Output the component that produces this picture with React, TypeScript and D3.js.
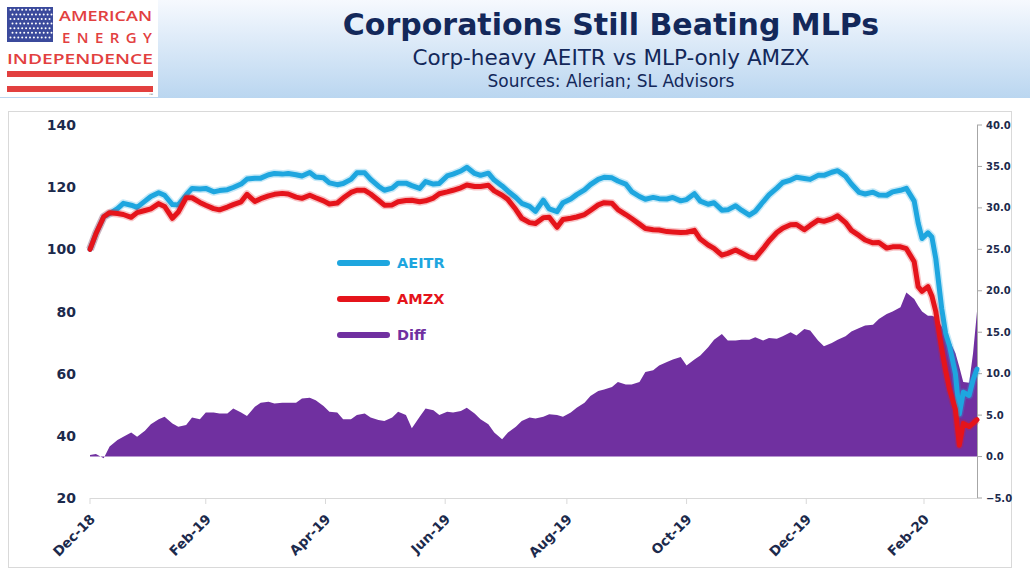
import React from "react";
import * as d3 from "d3";

// twice-weekly closes (Mon, Thu), then the March 2020 crash in finer steps
const dates = [
  "2018-12-31", "2019-01-03", "2019-01-07", "2019-01-10", "2019-01-14", "2019-01-17", "2019-01-21", "2019-01-24",
  "2019-01-28", "2019-01-31", "2019-02-04", "2019-02-07", "2019-02-11", "2019-02-14", "2019-02-18", "2019-02-21",
  "2019-02-25", "2019-02-28", "2019-03-04", "2019-03-07", "2019-03-11", "2019-03-14", "2019-03-18", "2019-03-21",
  "2019-03-25", "2019-03-28", "2019-04-01", "2019-04-04", "2019-04-08", "2019-04-11", "2019-04-15", "2019-04-18",
  "2019-04-22", "2019-04-25", "2019-04-29", "2019-05-02", "2019-05-06", "2019-05-09", "2019-05-13", "2019-05-16",
  "2019-05-20", "2019-05-23", "2019-05-27", "2019-05-30", "2019-06-03", "2019-06-06", "2019-06-10", "2019-06-13",
  "2019-06-17", "2019-06-20", "2019-06-24", "2019-06-27", "2019-07-01", "2019-07-04", "2019-07-08", "2019-07-11",
  "2019-07-15", "2019-07-18", "2019-07-22", "2019-07-25", "2019-07-29", "2019-08-01", "2019-08-05", "2019-08-08",
  "2019-08-12", "2019-08-15", "2019-08-19", "2019-08-22", "2019-08-26", "2019-08-29", "2019-09-02", "2019-09-05",
  "2019-09-09", "2019-09-12", "2019-09-16", "2019-09-19", "2019-09-23", "2019-09-26", "2019-09-30", "2019-10-03",
  "2019-10-07", "2019-10-10", "2019-10-14", "2019-10-17", "2019-10-21", "2019-10-24", "2019-10-28", "2019-10-31",
  "2019-11-04", "2019-11-07", "2019-11-11", "2019-11-14", "2019-11-18", "2019-11-21", "2019-11-25", "2019-11-28",
  "2019-12-02", "2019-12-05", "2019-12-09", "2019-12-12", "2019-12-16", "2019-12-19", "2019-12-23", "2019-12-26",
  "2019-12-30", "2020-01-02", "2020-01-06", "2020-01-09", "2020-01-13", "2020-01-16", "2020-01-20", "2020-01-23",
  "2020-01-27", "2020-01-30", "2020-02-03", "2020-02-06", "2020-02-10", "2020-02-13",
  "2020-02-17", "2020-02-20", "2020-02-24", "2020-02-26", "2020-02-28", "2020-03-02", "2020-03-04", "2020-03-06",
  "2020-03-09", "2020-03-11", "2020-03-13", "2020-03-16", "2020-03-18", "2020-03-20", "2020-03-23", "2020-03-25",
  "2020-03-27",
];

const aeitr = [
  100, 105, 110.5, 111.5, 113.1, 114.8, 114.2, 113.5, 115.5, 117,
  118.2, 117.4, 114.4, 114.3, 117.5, 119.6, 119.4, 119.6, 118.5, 118.9,
  119.2, 119.9, 121, 122.6, 122.9, 122.9, 124, 124.4, 124.2, 124.4,
  124, 123.6, 124.7, 123.3, 123, 121.4, 120.8, 121.2, 122.5, 124.6,
  124.6, 122.5, 120.3, 119, 119.7, 121.3, 121.3, 120.5, 119.6, 121.8,
  121, 121.2, 123.6, 124.2, 125.2, 126.4, 124.4, 123.8, 124.5, 122.3,
  120.4, 118.7, 116.7, 114.8, 113.8, 112.2, 115.8, 113, 112.1, 115,
  116.2, 117.6, 119.1, 120.8, 122.5, 123.2, 123, 122, 121, 118.6,
  117, 116.1, 116.7, 116.3, 116.2, 116.7, 115.6, 116, 117.9, 115.5,
  114.5, 115, 112.6, 112.7, 114, 112.6, 111, 112.2, 115.3, 117.5,
  119.7, 121.5, 122.3, 123.2, 122.8, 122.5, 123.8, 123.8, 124.8, 125.3,
  123.5, 121, 118.3, 117.8, 118.4, 117.5, 117.4, 118.5,
  119, 119.6, 115.5, 108.5, 103.5, 105.3, 104, 97, 81, 73, 69, 60, 47, 54, 53, 58, 61.5,
];

const amzx = [
  100, 105, 110.5, 111.8, 111.5, 111.2, 110.3, 111.8, 112.5, 113,
  114.7, 113.8, 110, 112, 116.6, 116.6, 115.1, 114.2, 113.1, 112.7,
  113.6, 114.4, 115.3, 117.7, 115.4, 116.3, 117.2, 117.7, 118, 117.8,
  116.8, 116.4, 117.4, 116.6, 115.6, 114.6, 114.9, 116.5, 118.3, 119,
  119, 117.8, 115.8, 114.2, 114.3, 115.3, 115.7, 115.8, 115.3, 115.6,
  116.5, 117.9, 118.5, 119, 119.8, 120.7, 120.2, 120.2, 120.6, 118.8,
  117.4, 116, 112.8, 110, 108.6, 108.3, 110.2, 110.3, 107.1, 109.6,
  110, 110.4, 111.2, 112.5, 114.3, 115, 114.8, 112.8, 111.2, 109.9,
  108.1, 106.7, 106.3, 106.2, 105.7, 105.6, 105.4, 105.5, 106.1, 103.3,
  101.4, 100.3, 98.1, 98.7, 99.8, 98.8, 97.5, 97.2, 100.2, 102.7,
  105.4, 106.8, 107.9, 108, 106.3, 107.7, 109.4, 109, 109.8, 110.8,
  108.6, 106.1, 104.4, 103, 102.1, 102.2, 100.4, 100.8,
  100.8, 100.2, 96, 88, 86.5, 88, 85, 80, 68, 61, 55, 48.5, 37, 44, 43, 44, 45.2,
];

const diff = [
  0.2, 0.3, -0.2, 1.2, 2.0, 2.4, 2.9, 2.4, 3.1, 3.9,
  4.5, 4.8, 4.0, 3.6, 3.8, 4.7, 4.5, 5.3, 5.3, 5.2,
  5.2, 5.8, 5.3, 4.9, 6.0, 6.5, 6.6, 6.4, 6.5, 6.5,
  6.5, 7.0, 7.1, 6.8, 6.1, 5.4, 5.3, 4.5, 4.5, 5.0,
  5.2, 4.7, 4.4, 4.3, 4.7, 5.4, 5.0, 3.4, 4.8, 5.8,
  5.6, 5.0, 5.4, 5.3, 5.5, 5.9, 5.2, 4.5, 3.9, 2.9,
  2.1, 2.9, 3.6, 4.3, 4.7, 4.6, 4.8, 5.1, 5.0, 4.8,
  5.3, 5.9, 6.5, 7.3, 7.9, 8.1, 8.4, 9.0, 8.7, 8.7,
  9.0, 10.2, 10.4, 11.0, 11.4, 11.7, 12.0, 11.0, 11.7, 12.2,
  13.2, 14.1, 14.8, 14.0, 14.0, 14.1, 14.1, 14.4, 14.0, 14.3,
  14.2, 14.5, 15.0, 14.6, 15.4, 15.2, 14.0, 13.3, 13.7, 14.1,
  14.5, 15.1, 15.5, 15.8, 15.9, 16.6, 17.2, 17.5,
  18.0, 19.8, 19.0, 18.2, 17.5, 17.0, 17.0, 16.8, 15.7, 14.8, 14.0, 12.5, 10.8, 9.0, 8.9, 12.5, 17.5,
];

const leftTicks = [20, 40, 60, 80, 100, 120, 140];
const rightTicks = [-5, 0, 5, 10, 15, 20, 25, 30, 35, 40];
const xTickDates = [
  "2018-12-31", "2019-02-28", "2019-04-30", "2019-06-30",
  "2019-08-31", "2019-10-31", "2019-12-31", "2020-02-29",
];

const seriesNames = ["AEITR", "AMZX", "Diff"];
const seriesColors = ["#1ea6df", "#e5141b", "#7030a0"];

const navy = "#13285a";
const axisText = "#1c2a4c";
const font = "DejaVu Sans, Verdana, sans-serif";

const Logo = () => {
  const dots: JSX.Element[] = [];
  for (let r = 0; r < 7; r++) {
    for (let c = 0; c < 11; c++) {
      const off = r % 2 === 0 ? 0 : 2;
      dots.push(<circle key={`${r}-${c}`} cx={10.5 + off + c * 3.9} cy={9.8 + r * 4.6} r={1} fill="#ffffff" />);
    }
  }
  return (
    <g>
      <rect x={0} y={0} width={158} height={97} fill="#ffffff" />
      <rect x={7} y={7} width={46} height={35} fill="#3b4a9c" />
      {dots}
      <g fill="#e2403f" fontFamily="Open Sans, DejaVu Sans, sans-serif" fontWeight={600} fontSize={15}>
        <text x={59} y={21} textLength={93} lengthAdjust="spacingAndGlyphs">AMERICAN</text>
        <text x={62} y={42.5} textLength={90} lengthAdjust="spacing">ENERGY</text>
        <text x={7} y={64} textLength={146} lengthAdjust="spacingAndGlyphs">INDEPENDENCE</text>
      </g>
      <rect x={7} y={71} width={146} height={6} fill="#e2403f" />
      <rect x={7} y={86} width={146} height={6} fill="#e2403f" />
      <text x={149} y={96} fontSize={4} fill="#666">™</text>
    </g>
  );
};

export default function App() {
  const parse = d3.timeParse("%Y-%m-%d");
  const days = dates.map((d) => parse(d) as Date);
  const fmt = d3.timeFormat("%b-%y");

  const x = d3.scaleTime().domain([days[0], days[days.length - 1]]).range([90, 977]);
  const yL = d3.scaleLinear().domain([20, 140]).range([498, 125]);
  const yR = d3.scaleLinear().domain([-5, 40]).range([498, 125]);

  const lineGen = d3
    .line<number>()
    .x((_, i) => x(days[i]))
    .y((v) => yL(v));
  const areaGen = d3
    .area<number>()
    .x((_, i) => x(days[i]))
    .y0(yR(0))
    .y1((v) => yR(v));

  const lines = [aeitr, amzx];

  return (
    <div style={{ position: "absolute", left: 0, top: 0 }}>
      <svg width={1030} height={579} style={{ display: "block" }}>
        <defs>
          <linearGradient id="hdr" x1="0" y1="0" x2="0" y2="1">
            <stop offset="0%" stopColor="#f6f9fe" />
            <stop offset="100%" stopColor="#bad6f0" />
          </linearGradient>
        </defs>
        <rect x={0} y={0} width={1030} height={579} fill="#ffffff" />
        <rect x={0} y={0} width={1030} height={98} fill="url(#hdr)" />
        <Logo />

        <g textAnchor="middle" fill={navy} fontFamily={font}>
          <text x={611} y={35} fontSize={30} fontWeight="bold">Corporations Still Beating MLPs</text>
          <text x={611} y={65} fontSize={21.5}>Corp-heavy AEITR vs MLP-only AMZX</text>
          <text x={611} y={87} fontSize={17}>Sources: Alerian; SL Advisors</text>
        </g>

        <rect x={8.5} y={111.5} width={1003} height={456} fill="#ffffff" stroke="#d9d9d9" />

        {/* x axis */}
        <line x1={90} x2={977} y1={498.5} y2={498.5} stroke="#d9d9d9" />
        {xTickDates.map((d) => {
          const tx = x(parse(d) as Date);
          return (
            <g key={d}>
              <line x1={tx} x2={tx} y1={498} y2={504} stroke="#d9d9d9" />
              <text
                transform={`translate(${tx + 6},${520}) rotate(-45)`}
                textAnchor="end"
                fontFamily={font}
                fontWeight="bold"
                fontSize={13.5}
                fill={axisText}
              >
                {fmt(parse(d) as Date)}
              </text>
            </g>
          );
        })}

        {/* left axis */}
        {leftTicks.map((t) => (
          <text key={t} x={76} y={yL(t) + 5} textAnchor="end" fontFamily={font} fontWeight="bold" fontSize={14} fill={axisText}>
            {t}
          </text>
        ))}

        {/* right axis */}
        <line x1={977.5} x2={977.5} y1={125} y2={498} stroke="#a6a6a6" />
        {rightTicks.map((t) => (
          <g key={t}>
            <line x1={977} x2={982} y1={yR(t)} y2={yR(t)} stroke="#a6a6a6" />
            <text x={986} y={yR(t) + 3.5} fontFamily={font} fontWeight="bold" fontSize={10} fill={axisText}>
              {d3.format(".1f")(t)}
            </text>
          </g>
        ))}

        {/* series */}
        <path d={areaGen(diff) ?? ""} fill={seriesColors[2]} />
        {lines.map((vals, i) => (
          <g key={seriesNames[i]}>
            <path d={lineGen(vals) ?? ""} fill="none" stroke={seriesColors[i]} strokeOpacity={0.25} strokeWidth={8} strokeLinejoin="round" />
            <path d={lineGen(vals) ?? ""} fill="none" stroke={seriesColors[i]} strokeWidth={5} strokeLinejoin="round" strokeLinecap="round" />
          </g>
        ))}

        {/* legend */}
        {seriesNames.map((name, i) => {
          const ly = 263 + i * 36;
          return (
            <g key={name}>
              <line x1={340} x2={387} y1={ly} y2={ly} stroke={seriesColors[i]} strokeWidth={6} strokeLinecap="round" />
              <text x={397} y={ly + 5} fontFamily={font} fontWeight="bold" fontSize={14.5} fill={seriesColors[i]}>
                {name}
              </text>
            </g>
          );
        })}
      </svg>
    </div>
  );
}
